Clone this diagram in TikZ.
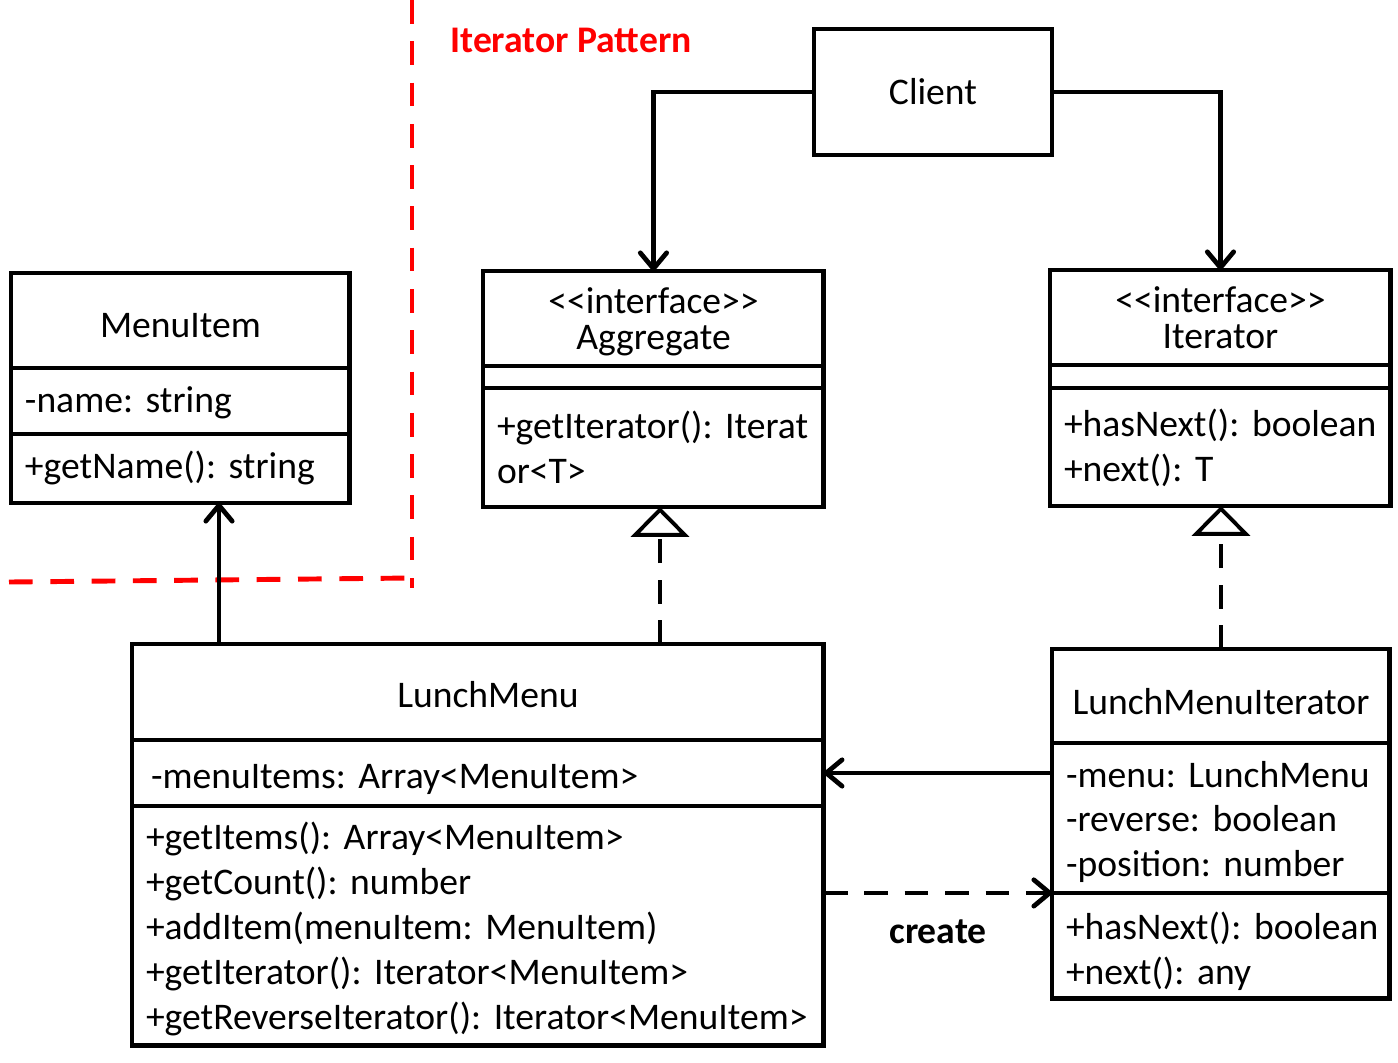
\documentclass[tikz,border=0pt]{standalone}
\usepackage{fontspec}
\setmainfont{Carlito}
\usetikzlibrary{positioning, arrows.meta}

\newcommand{\umlsize}{\fontsize{21.4pt}{25.5pt}\selectfont\hyphenpenalty=10000 }
\newcommand{\headsize}{\fontsize{21.4pt}{20.5pt}\selectfont}
\frenchspacing

\begin{document}
\begin{tikzpicture}[x = 0.02cm, y = -0.02cm, line width = 2.7pt,	% 座標はピクセル単位
  box/.style = {draw, line width = 2.8pt, outer sep = 0pt, inner xsep = 0.28cm, inner ysep = 0pt, font = \umlsize},
  head/.style = {box, align = center},
  body/.style = {box, align = left},
  low/.style = {text height = #1},		% 文字を少し下げる
  assoc/.style = {-{Straight Barb[round, length = 9pt, width = 15pt]}},
  depend/.style = {assoc, dash pattern = on 13.5pt off 9.5pt},
  realize/.style = {-{Triangle[open, length = 17pt, width = 33pt, line width = 2.2pt]}, dash pattern = on 13.5pt off 9.5pt},
  boundary/.style = {red, line width = 2.8pt, dash pattern = on 13.5pt off 10pt}]

  \useasboundingbox (0, 0) rectangle (1398, 1062);

  % 境界線（赤の破線）
  \draw[boundary] (412, 0)--(412, 588);
  \draw[boundary] (9, 582)--(412, 578);
  \node[text = red, font = \umlsize\bfseries] (title) at (571, 40) {Iterator Pattern};

  % Client
  \node[head, minimum width = 4.76cm, minimum height = 2.52cm, anchor = north west] (client) at (814, 29) {Client};

  % MenuItem
  \node[head, low = 19.3pt, text width = 6.22cm, minimum height = 1.9cm, anchor = north west] (mi-name) at (11, 273) {MenuItem};
  \node[body, low = 17pt, text width = 6.22cm, minimum height = 1.32cm, below = 0pt of mi-name] (mi-attr) {-name:~string};
  \node[body, text width = 6.22cm, minimum height = 1.38cm, below = 0pt of mi-attr] (mi-ops) {+getName():~string};

  % Aggregate
  \node[head, low = 18.1pt, font = \headsize, text width = 6.26cm, minimum height = 1.9cm, anchor = north west] (agg-name) at (483, 271)
	{<\kern0pt<interface>\kern0pt>\\Aggregate};
  \node[body, text width = 6.26cm, minimum height = 0.44cm, below = 0pt of agg-name] (agg-attr) {};
  \node[body, text width = 6.26cm, minimum height = 2.38cm, below = 0pt of agg-attr] (agg-ops)
	{+getIterator():~Iterat\\or<T>};

  % Iterator
  \node[head, low = 15pt, font = \headsize, text width = 6.26cm, minimum height = 1.9cm, anchor = north west] (itr-name) at (1050, 270)
	{<\kern0pt<interface>\kern0pt>\\Iterator};
  \node[body, text width = 6.26cm, minimum height = 0.46cm, below = 0pt of itr-name] (itr-attr) {};
  \node[body, low = 16.9pt, text width = 6.26cm, minimum height = 2.36cm, below = 0pt of itr-attr] (itr-ops)
	{+hasNext():~boolean\\+next():~T};

  % LunchMenu
  \node[head, low = 18.1pt, text width = 13.28cm, minimum height = 1.92cm, anchor = north west] (lm-name) at (132, 644)
	{\hspace{0.4cm}LunchMenu};
  \node[body, low = 21.5pt, text width = 13.28cm, minimum height = 1.32cm, below = 0pt of lm-name] (lm-attr)
	{\hspace{0.1cm}-menuItems:~Array<MenuItem>};
  \node[body, low = 19.2pt, text width = 13.28cm, minimum height = 4.8cm, below = 0pt of lm-attr] (lm-ops)
	{+getItems():~Array<MenuItem>\\+getCount():~number\\+addItem(menuItem:~MenuItem)\\
	 +getIterator():~Iterator<MenuItem>\\+getReverseIterator():~Iterator<MenuItem>};

  % LunchMenuIterator
  \node[head, low = 21.5pt, text width = 6.2cm, minimum height = 1.88cm, anchor = north west] (lmi-name) at (1052, 649)
	{LunchMenuIterator};
  \node[body, low = 19.2pt, text width = 6.2cm, minimum height = 3.0cm, below = 0pt of lmi-name] (lmi-attr)
	{-menu:~LunchMenu\\-reverse:~boolean\\-position:~number};
  \node[body, low = 21.5pt, text width = 6.2cm, minimum height = 2.12cm, below = 0pt of lmi-attr] (lmi-ops)
	{+hasNext():~boolean\\+next():~any};

  % 関連
  \draw[assoc] (client.west) -| (agg-name.north);
  \draw[assoc] (client.east) -| (itr-name.north);
  \draw[assoc] (lm-name.north -| 219, 0)--(219, 0 |- mi-ops.south);
  \draw[assoc] (lmi-attr.west |- lm-attr.east)--(lm-attr.east);

  % 実現（破線＋白三角）
  \draw[realize] (lm-name.north -| 660, 0)--(660, 0 |- agg-ops.south);
  \draw[realize] (lmi-name.north)--(lmi-name.north |- itr-ops.south);

  % 依存
  \draw[depend] (lm-ops.east |- lmi-ops.north)--(lmi-ops.north west)
	node[midway, yshift = -0.78cm, font = \umlsize\bfseries, text = black] (create) {create};

\end{tikzpicture}
\end{document}
